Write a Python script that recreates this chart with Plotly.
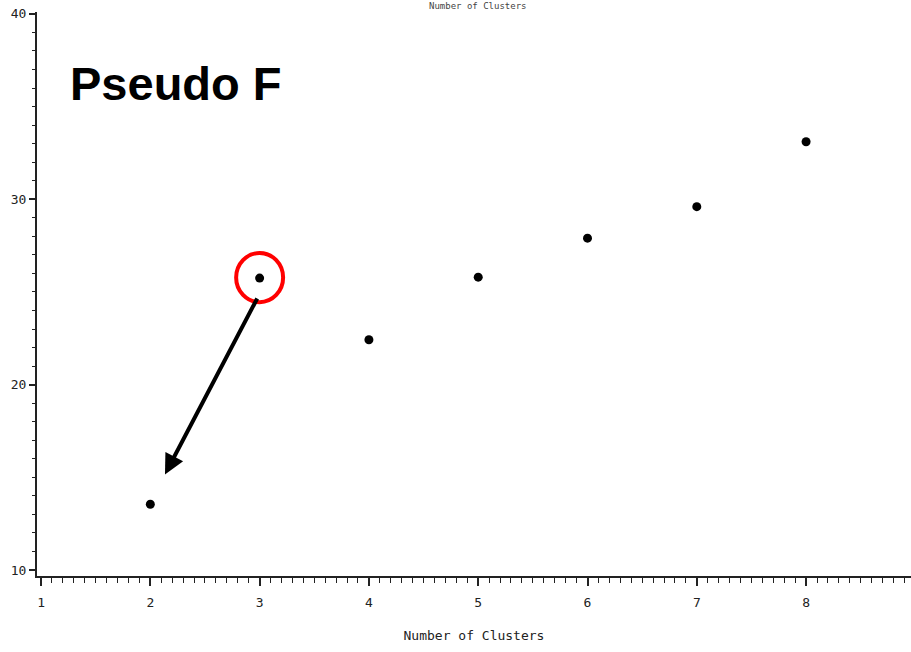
import plotly.graph_objects as go

clusters = [2, 3, 4, 5, 6, 7, 8, 9]
pseudo_f = [13.55, 25.75, 22.42, 25.8, 27.9, 29.6, 33.1, 34.6]
x_ticks = [1, 2, 3, 4, 5, 6, 7, 8]
y_ticks = [10, 20, 30, 40]

axis_font = dict(family="DejaVu Sans Mono", size=13, color="#222")

fig = go.Figure()
fig.add_trace(go.Scatter(
    x=clusters, y=pseudo_f, mode="markers",
    marker=dict(color="black", size=9, symbol="circle"),
    cliponaxis=False, showlegend=False, hoverinfo="x+y",
))

fig.update_layout(
    width=911, height=652,
    margin=dict(l=37, r=0, t=12, b=76),
    paper_bgcolor="white", plot_bgcolor="white",
    xaxis=dict(
        range=[0.963, 8.96], tickvals=x_ticks, ticktext=[str(v) for v in x_ticks],
        automargin=False,
        showgrid=False, zeroline=False, showline=True, linecolor="#222", linewidth=2,
        ticks="outside", ticklen=8, tickwidth=1.5, tickcolor="#222",
        minor=dict(dtick=0.1, ticks="outside", ticklen=5, tickwidth=1, tickcolor="#222"),
        tickfont=axis_font, ticklabelstandoff=5,
        title=dict(text="Number of Clusters", font=axis_font, standoff=22),
    ),
    yaxis=dict(
        range=[9.68, 40.1], tickvals=y_ticks,
        automargin=False,
        showgrid=False, zeroline=False, showline=True, linecolor="#222", linewidth=2,
        ticks="outside", ticklen=6, tickwidth=1.5, tickcolor="#222",
        minor=dict(dtick=1, ticks="outside", ticklen=3, tickwidth=1, tickcolor="#222"),
        tickfont=axis_font,
    ),
)

# top title (cut off in the reference; kept fully visible here, small)
fig.add_annotation(
    text="Number of Clusters", xref="paper", yref="paper", x=0.505, y=1.0,
    yshift=6, showarrow=False, font=dict(family="DejaVu Sans Mono", size=9, color="#444"),
    yanchor="middle",
)

# Pseudo F label
fig.add_annotation(
    text="<b>Pseudo F</b>", xref="paper", yref="paper", x=0.036, y=0.874,
    xanchor="left", yanchor="middle", showarrow=False,
    font=dict(family="Liberation Sans", size=47, color="black"),
)

# red circle around x=3
fig.add_shape(
    type="circle", xref="x", yref="y",
    x0=2.785, x1=3.215, y0=24.45, y1=27.1,
    line=dict(color="red", width=4),
)

# arrow
fig.add_annotation(
    x=2.134, y=15.16, ax=2.985, ay=24.73, xref="x", yref="y", axref="x", ayref="y",
    showarrow=True, arrowhead=2, arrowsize=1, arrowwidth=4, arrowcolor="black", text="",
)

fig.write_html(
    "out.html",
    config={"displayModeBar": False},
    post_script="document.body.style.margin='0';document.body.style.overflow='hidden';",
)
